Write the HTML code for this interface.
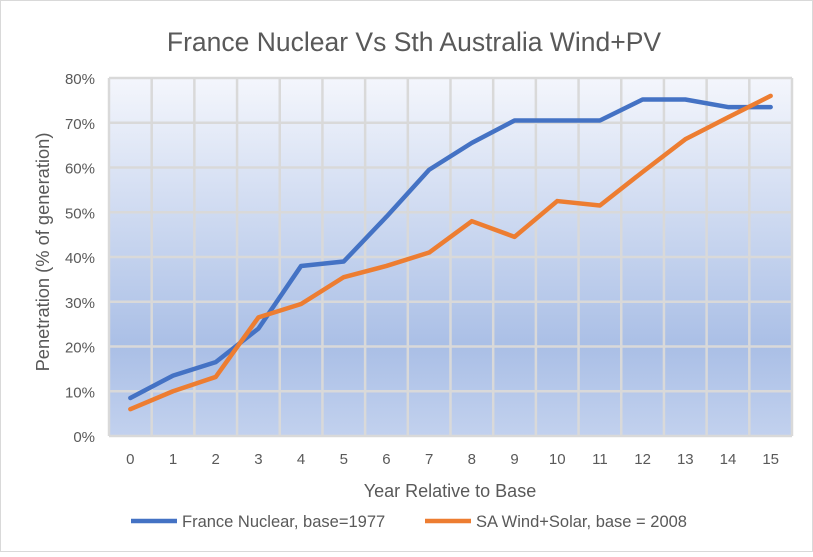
<!DOCTYPE html>
<html><head><meta charset="utf-8"><style>
body{margin:0;background:#fff;font-family:"Liberation Sans",sans-serif}
svg text{font-family:"Liberation Sans",sans-serif;fill:#595959}
</style></head><body>
<svg width="813" height="552">
<defs><linearGradient id="bg" x1="0" y1="0" x2="0" y2="1">
<stop offset="0" stop-color="#f4f6fc"/><stop offset="0.75" stop-color="#aabfe6"/><stop offset="1" stop-color="#c2d1ee"/></linearGradient></defs>
<rect x="0.5" y="0.5" width="812" height="551" fill="#fff" stroke="#d9d9d9"/>
<text x="414" y="51" text-anchor="middle" font-size="26.5">France Nuclear Vs Sth Australia Wind+PV</text>
<rect x="109" y="78" width="683" height="358" fill="url(#bg)"/>
<g id="grid"></g><g id="axes"></g><g id="lines"></g>
<text transform="translate(49,252) rotate(-90)" text-anchor="middle" font-size="18.3">Penetration (% of generation)</text>
<text x="450" y="497" text-anchor="middle" font-size="18">Year Relative to Base</text>
<g>
<line x1="131" y1="521" x2="177" y2="521" stroke="#4472c4" stroke-width="4.5"/>
<text x="182" y="527" font-size="16.5">France Nuclear, base=1977</text>
<line x1="425" y1="521" x2="471" y2="521" stroke="#ed7d31" stroke-width="4.5"/>
<text x="476" y="527" font-size="16.5">SA Wind+Solar, base = 2008</text>
</g>
</svg>
<script>
const categories=[0,1,2,3,4,5,6,7,8,9,10,11,12,13,14,15];
const france=[8.5,13.5,16.5,24,38,39,49,59.5,65.5,70.5,70.5,70.5,75.2,75.2,73.5,73.5];
const sa=[6,10,13.2,26.5,29.5,35.5,38,41,48,44.5,52.5,51.5,59,66.3,71.2,76];
const yTicks=[0,10,20,30,40,50,60,70,80];
const L=109,R=792,T=78,B=436,ns="http://www.w3.org/2000/svg";
const bw=(R-L)/categories.length;
const xs=i=>L+bw*(i+0.5), ys=v=>B-(v/80)*(B-T);
function mk(tag,at,parent){const e=document.createElementNS(ns,tag);for(const k in at)e.setAttribute(k,at[k]);document.getElementById(parent).appendChild(e);return e;}
yTicks.forEach(v=>{
 const g=mk('line',{x1:L,x2:R,y1:ys(v),y2:ys(v),stroke:'#d9d9d9','stroke-width':2.5},'grid');
 
 
 const t=mk('text',{x:L-14,y:ys(v)+6,'text-anchor':'end','font-size':15},'axes');
 t.textContent=v+'%';
 
 
});
for(let i=0;i<=categories.length;i++){
 const g=mk('line',{x1:L+bw*i,x2:L+bw*i,y1:T,y2:B,stroke:'#d9d9d9','stroke-width':2.5},'grid');
 
 
}
categories.forEach((c,i)=>{
 const t=mk('text',{x:xs(i),y:B+28,'text-anchor':'middle','font-size':15},'axes');
 t.textContent=c;
 
 
});
[[france,'#4472c4','france-nuclear-line'],[sa,'#ed7d31','sa-wind-solar-line']].forEach(([d,c,n])=>{
 const p=mk('polyline',{points:d.map((v,i)=>xs(i)+','+ys(v)).join(' '),fill:'none',stroke:c,'stroke-width':4.5,'stroke-linejoin':'round','stroke-linecap':'round'},'lines');
 
 
});
</script>
</body></html>
